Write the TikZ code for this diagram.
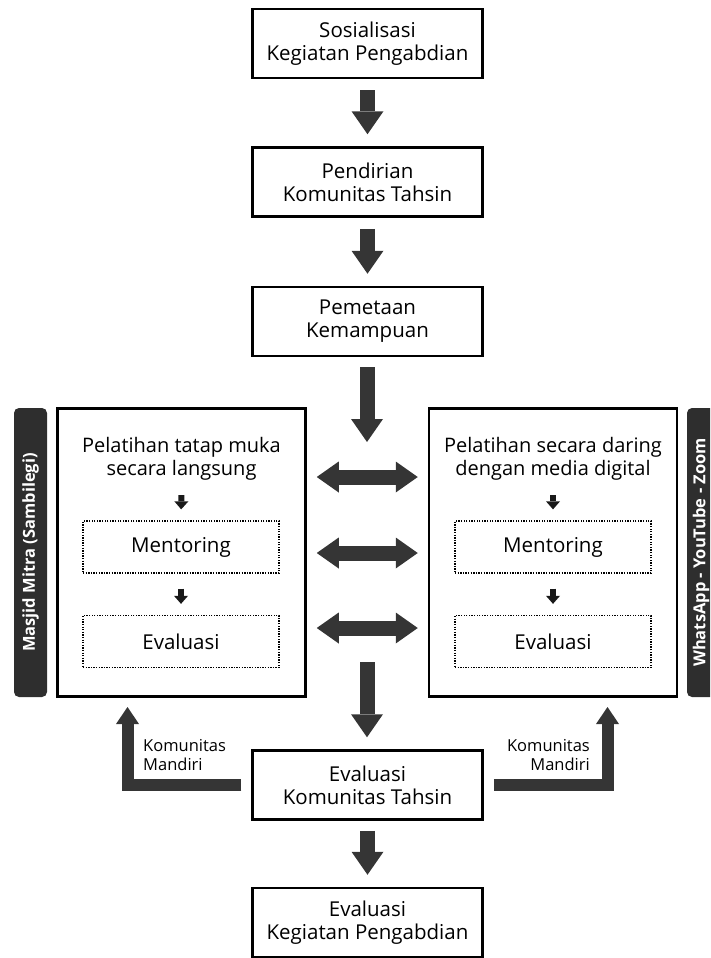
\documentclass[tikz,border=0pt]{standalone}
\usepackage{fontspec}
\setmainfont{Open Sans}
\usepackage{xcolor}
\usetikzlibrary{arrows.meta,positioning,calc}

\definecolor{arrowgrey}{HTML}{353535}
\definecolor{bargrey}{HTML}{2E2E2E}

\begin{document}
\begin{tikzpicture}[
    x=1pt, y=-1pt,
    stepbox/.style={rectangle, draw=black, line width=2.5pt, minimum width=230pt, minimum height=69pt, inner sep=0pt, align=center, font=\fontsize{20.5}{23}\selectfont},
    trainbox/.style={rectangle, draw=black, line width=2.5pt, minimum width=248pt, minimum height=288pt, inner sep=0pt},
    title/.style={minimum height=58pt, inner sep=0pt, align=center, font=\fontsize{20}{22.5}\selectfont},
    sub/.style={rectangle, draw=black, line width=1.3pt, dash pattern=on 1.3pt off 1.3pt, minimum width=196pt, minimum height=52pt, inner sep=0pt, font=\fontsize{20.5}{23}\selectfont},
    sidebar/.style={rectangle, rounded corners=5pt, fill=bargrey, text=white, minimum height=33pt, minimum width=289pt, inner sep=0pt, font=\bfseries\fontsize{16.5}{18}\selectfont},
    note/.style={inner sep=0pt, font=\fontsize{16.5}{19}\selectfont},
    bigarrow/.style={draw=arrowgrey, line width=15pt, >={Triangle[length=23pt,width=32pt,line width=0pt]}, ->},
    dblarrow/.style={draw=arrowgrey, line width=15pt, >={Triangle[length=22pt,width=31pt,line width=0pt]}, <->, shorten <=10pt, shorten >=10pt},
    backarrow/.style={draw=arrowgrey, line width=12pt, line join=miter, >={Triangle[length=17pt,width=23pt,line width=0pt]}, ->, shorten <=10pt, shorten >=10pt},
    smallarrow/.style={draw=black!90, line width=6pt, >={Triangle[length=8pt,width=14pt,line width=0pt]}, ->, shorten <=7pt, shorten >=11pt}
]
    \useasboundingbox (0,0) rectangle (710,958);
    \clip (0,0) rectangle (710,958);

    % Main steps
    \node[stepbox] (sos) at (367.5,43.5) {Sosialisasi\\Kegiatan Pengabdian};
    \node[stepbox] (pend) at (367.5,182) {Pendirian\\Komunitas Tahsin};
    \node[stepbox] (pemet) at (367.5,321.5) {Pemetaan\\Kemampuan};

    % Training boxes
    \node[trainbox] (lbox) at (181.5,552.5) {};
    \node[trainbox] (rbox) at (553,552.5) {};

    \node[title] (ltitle) at (181.5,459) {Pelatihan tatap muka\\secara langsung};
    \node[sub] (lment) at (181,547) {Mentoring};
    \node[sub] (leval) at (181,641.5) {Evaluasi};

    \node[title] (rtitle) at (553,459) {Pelatihan secara daring\\dengan media digital};
    \node[sub] (rment) at (553,547) {Mentoring};
    \node[sub] (reval) at (553,641.5) {Evaluasi};

    % Side labels
    \node[sidebar, rotate=90] (masjid) at (30.5,552.5) {Masjid Mitra (Sambilegi)};
    \node[sidebar, rotate=90, text height=12.5pt, text depth=9pt] (media) at (703.5,552.5) {WhatsApp - YouTube - Zoom};

    % Evaluation
    \node[stepbox] (evalk) at (367.5,785) {Evaluasi\\Komunitas Tahsin};
    \node[stepbox] (evalp) at (367.5,922.5) {Evaluasi\\Kegiatan Pengabdian};

    \node[note, anchor=west, align=left] (lnote) at (143,755) {Komunitas\\Mandiri};
    \node[note, anchor=east, align=right] (rnote) at (590,755) {Komunitas\\Mandiri};

    \coordinate (ar3end) at (367,442);
    \coordinate (ar4start) at (367,662);
    \coordinate (d1) at (0,477);
    \coordinate (d2) at (0,553);
    \coordinate (d3) at (0,628);
    \coordinate (lret) at (127.5,697);
    \coordinate (rret) at (607.5,697);

    % Arrows
    \draw[bigarrow, shorten <=11pt, shorten >=12pt] (sos) -- (pend);
    \draw[bigarrow, shorten <=11pt, shorten >=12pt] (pend) -- (pemet);
    \draw[bigarrow, shorten <=10pt] (pemet.south -| ar3end) -- (ar3end);
    \draw[bigarrow, shorten >=12pt] (ar4start) -- (evalk.north -| ar4start);
    \draw[bigarrow, shorten <=10pt, shorten >=12pt] (evalk) -- (evalp);

    \draw[dblarrow] (lbox.east |- d1) -- (rbox.west |- d1);
    \draw[dblarrow] (lbox.east |- d2) -- (rbox.west |- d2);
    \draw[dblarrow] (lbox.east |- d3) -- (rbox.west |- d3);

    \draw[smallarrow] (ltitle.south) -- (lment.north);
    \draw[smallarrow, shorten <=15pt] (lment.south) -- (leval.north);
    \draw[smallarrow] (rtitle.south) -- (rment.north);
    \draw[smallarrow, shorten <=15pt] (rment.south) -- (reval.north);

    \draw[backarrow] (evalk.west) -| (lret);
    \draw[backarrow] (evalk.east) -| (rret);
\end{tikzpicture}
\end{document}
